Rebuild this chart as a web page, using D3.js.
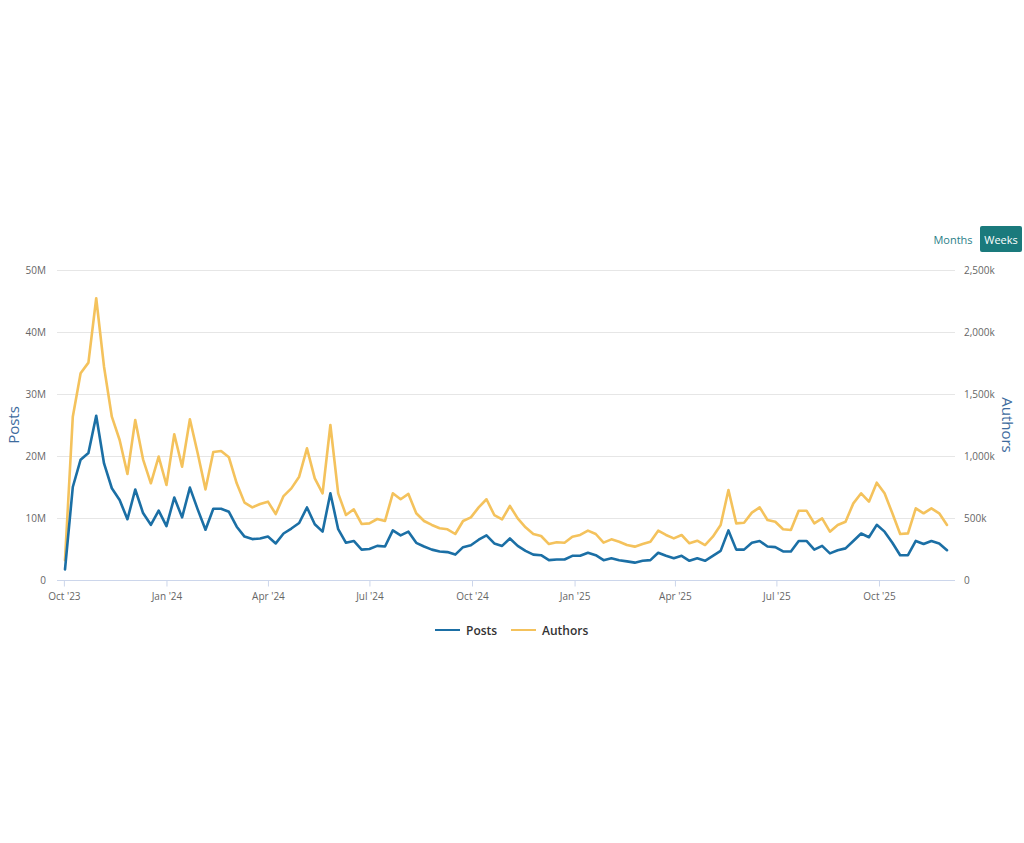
<!DOCTYPE html>
<html>
<head>
<meta charset="utf-8">
<script src="https://cdn.jsdelivr.net/npm/d3@7"></script>
<style>
  html, body { margin: 0; padding: 0; background: #fff; }
  svg { display: block; font-family: "Open Sans", sans-serif; }
</style>
</head>
<body>
<svg id="chart" width="1024" height="843"></svg>
<script>
// ---- data ----
const startDate = "2023-10-02";   // first weekly point
const posts = [1.7,15.0,19.4,20.5,26.5,18.8,14.8,12.9,9.8,14.6,10.8,8.9,11.2,8.7,13.3,10.1,14.9,11.4,8.1,11.5,
  11.5,11.0,8.6,7.0,6.6,6.7,7.0,5.9,7.5,8.3,9.2,11.7,9.0,7.8,14.0,8.2,6.0,6.3,4.9,5.0,
  5.5,5.4,8.0,7.2,7.8,6.0,5.4,4.9,4.6,4.5,4.1,5.3,5.6,6.5,7.2,5.9,5.5,6.7,5.5,4.7,
  4.1,4.0,3.2,3.3,3.3,3.9,3.9,4.4,4.0,3.2,3.5,3.2,3.0,2.8,3.1,3.2,4.4,3.9,3.5,3.9,
  3.1,3.5,3.1,3.9,4.7,8.0,4.9,4.9,6.0,6.3,5.4,5.3,4.6,4.6,6.3,6.3,4.9,5.5,4.3,4.8,
  5.1,6.3,7.5,6.9,8.9,7.8,6.0,4.0,4.0,6.3,5.8,6.3,5.9,4.8]; // millions
const authors = [160,1317,1667,1753,2272,1720,1317,1129,855,1290,973,780,995,766,1175,914,1296,1022,731,1032,
  1040,989,780,624,586,613,632,532,677,739,833,1062,820,699,1250,699,524,570,452,457,
  492,476,699,651,694,538,476,444,417,409,371,476,505,586,651,524,489,597,497,425,
  371,355,290,304,301,349,363,398,371,301,328,309,282,269,290,309,398,363,336,363,
  296,317,282,349,444,726,457,462,543,586,484,470,409,403,559,559,457,497,390,444,
  470,618,699,632,785,699,538,371,376,578,538,578,538,444]; // thousands
const xTickDates = ["2023-10-01","2024-01-01","2024-04-01","2024-07-01","2024-10-01","2025-01-01","2025-04-01","2025-07-01","2025-10-01"];
const leftTicks = [0,10,20,30,40,50];          // millions
const rightTicks = [0,500,1000,1500,2000,2500]; // thousands
const seriesNames = ["Posts","Authors"];
const seriesColors = ["#1b6fa5","#f4c25c"];
const buttonLabels = ["Months","Weeks"];

// ---- layout ----
const svg = d3.select("#chart");
const plotL = 57, plotR = 955, plotT = 270, plotB = 580;
const parse = d3.utcParse("%Y-%m-%d");
const t0 = parse(startDate);
const dates = posts.map((_, i) => d3.utcWeek.offset(t0, i));

const x = d3.scaleUtc().domain([dates[0], dates[dates.length-1]]).range([65, 947]);
const yL = d3.scaleLinear().domain([0, 50]).range([plotB, plotT]);
const yR = d3.scaleLinear().domain([0, 2500]).range([plotB, plotT]);

// gridlines
svg.append("g").selectAll("line").data(leftTicks.slice(1)).join("line")
  .attr("x1", plotL).attr("x2", plotR)
  .attr("y1", d => yL(d) + 0.5).attr("y2", d => yL(d) + 0.5)
  .attr("stroke", "#e6e6e6").attr("stroke-width", 1);

// x axis
const xAxis = d3.axisBottom(x)
  .tickValues(xTickDates.map(parse))
  .tickFormat(d3.utcFormat("%b '%y"))
  .tickSizeInner(6).tickSizeOuter(0).tickPadding(6);
const gx = svg.append("g").attr("transform", `translate(0,${plotB + 0.5})`).call(xAxis);
gx.select(".domain").remove();
gx.append("line").attr("x1", plotL).attr("x2", plotR).attr("stroke", "#ccd6eb");
gx.selectAll(".tick line").attr("stroke", "#ccd6eb");
gx.selectAll(".tick text").attr("fill", "#666").attr("font-size", "10px")
  .attr("font-family", "'Open Sans', sans-serif");

// left axis
const gyl = svg.append("g").attr("transform", `translate(46,0)`)
  .call(d3.axisLeft(yL).tickValues(leftTicks).tickSize(0).tickPadding(0)
    .tickFormat(d => d === 0 ? "0" : d + "M"));
gyl.select(".domain").remove();
gyl.selectAll(".tick text").attr("fill", "#666").attr("font-size", "10px")
  .attr("font-family", "'Open Sans', sans-serif");

// right axis
const fmtK = d3.format(",");
const gyr = svg.append("g").attr("transform", `translate(964,0)`)
  .call(d3.axisRight(yR).tickValues(rightTicks).tickSize(0).tickPadding(0)
    .tickFormat(d => d === 0 ? "0" : fmtK(d) + "k"));
gyr.select(".domain").remove();
gyr.selectAll(".tick text").attr("fill", "#666").attr("font-size", "10px")
  .attr("font-family", "'Open Sans', sans-serif");

// axis titles
svg.append("text").attr("transform", "translate(19,425) rotate(-90)")
  .attr("text-anchor", "middle").attr("fill", "#3d6b9e").attr("font-size", "15px")
  .text(seriesNames[0]);
svg.append("text").attr("transform", "translate(1002,425) rotate(90)")
  .attr("text-anchor", "middle").attr("fill", "#3d6b9e").attr("font-size", "15px")
  .text(seriesNames[1]);

// lines
const linePosts = d3.line().x((d, i) => x(dates[i])).y(d => yL(d));
const lineAuthors = d3.line().x((d, i) => x(dates[i])).y(d => yR(d));
svg.append("path").datum(authors).attr("d", lineAuthors)
  .attr("fill", "none").attr("stroke", seriesColors[1]).attr("stroke-width", 2.6)
  .attr("stroke-linejoin", "round").attr("stroke-linecap", "round");
svg.append("path").datum(posts).attr("d", linePosts)
  .attr("fill", "none").attr("stroke", seriesColors[0]).attr("stroke-width", 2.6)
  .attr("stroke-linejoin", "round").attr("stroke-linecap", "round");

// legend
const legend = svg.append("g");
const legendX = [435, 511];
seriesNames.forEach((name, i) => {
  const g = legend.append("g").attr("transform", `translate(${legendX[i]},630)`);
  g.append("line").attr("x1", 0).attr("x2", 25).attr("y1", 0).attr("y2", 0)
    .attr("stroke", seriesColors[i]).attr("stroke-width", 2);
  g.append("text").attr("x", 31).attr("y", 4.5).attr("fill", "#333")
    .attr("font-size", "12px").attr("font-weight", 600).text(name);
});

// range buttons
svg.append("text").attr("x", 953).attr("y", 244).attr("text-anchor", "middle")
  .attr("fill", "#2b8088").attr("font-size", "11px").text(buttonLabels[0]);
svg.append("rect").attr("x", 980).attr("y", 226).attr("width", 42).attr("height", 26)
  .attr("rx", 2).attr("fill", "#1a7a7c");
svg.append("text").attr("x", 1001).attr("y", 244).attr("text-anchor", "middle")
  .attr("fill", "#fff").attr("font-size", "11px").text(buttonLabels[1]);
</script>
</body>
</html>
